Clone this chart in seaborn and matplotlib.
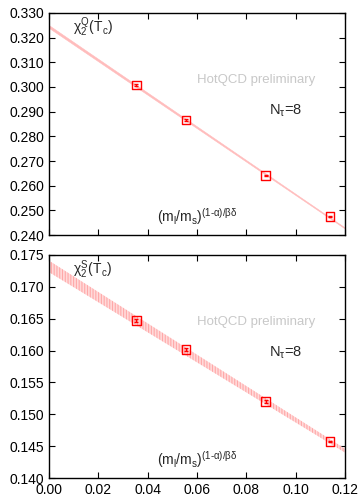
import matplotlib
matplotlib.use("Agg")
import matplotlib.pyplot as plt
import seaborn as sns
import pandas as pd

# Messpunkte (x = (ml/ms)^((1-alpha)/beta delta))
x_pts = [0.0353, 0.0555, 0.0878, 0.1139]
chiQ = [0.3008, 0.2866, 0.2641, 0.2474]
chiQ_err = [0.0004, 0.0003, 0.0003, 0.0002]
chiS = [0.1647, 0.1602, 0.1520, 0.1457]
chiS_err = [0.0002, 0.0002, 0.0002, 0.0001]

# Fit-Band an den Rändern (x = 0 und x = 0.12)
band_x = [0.0, 0.12]
chiQ_band_lo = [0.3239, 0.2426]
chiQ_band_hi = [0.3250, 0.2430]
chiS_band_lo = [0.1723, 0.1440]
chiS_band_hi = [0.1741, 0.1446]

yticksQ = [0.240, 0.250, 0.260, 0.270, 0.280, 0.290, 0.300, 0.310, 0.320, 0.330]
yticksS = [0.140, 0.145, 0.150, 0.155, 0.160, 0.165, 0.170, 0.175]
xticks = [0.00, 0.02, 0.04, 0.06, 0.08, 0.10, 0.12]

sns.set_style("ticks")
plt.rcParams["font.family"] = ["Liberation Sans", "DejaVu Sans"]
plt.rcParams["mathtext.fontset"] = "custom"
plt.rcParams["mathtext.rm"] = "Liberation Sans"
plt.rcParams["mathtext.it"] = "Liberation Sans"
plt.rcParams["mathtext.bf"] = "Liberation Sans:bold"
plt.rcParams["hatch.linewidth"] = 0.8

fig = plt.figure(figsize=(3.58, 4.96), dpi=100)
ax1 = fig.add_axes([0.137, 0.526, 0.827, 0.448])
ax2 = fig.add_axes([0.137, 0.036, 0.827, 0.450])


def panel(ax, y, yerr, lo, hi, yticks, label, hatched):
    df = pd.DataFrame({"x": x_pts, "y": y})
    if hatched:
        ax.fill_between(band_x, lo, hi, facecolor="#ffdada", edgecolor="#ffa8a8",
                        hatch="||||||", linewidth=0, zorder=1)
    else:
        ax.fill_between(band_x, lo, hi, color="#ffbcbc", linewidth=0.4, zorder=1)
    ax.errorbar(x_pts, y, yerr=yerr, fmt="none", ecolor="red", elinewidth=1,
                capsize=1.5, zorder=3)
    sns.scatterplot(data=df, x="x", y="y", ax=ax, marker="s", s=40,
                    facecolor="none", edgecolor="red", linewidth=1.0, zorder=4)
    ax.set_xlim(0, 0.12)
    ax.set_ylim(yticks[0], yticks[-1])
    ax.set_xticks(xticks)
    ax.set_yticks(yticks)
    ax.set_yticklabels([f"{t:.3f}" for t in yticks])
    ax.set_xlabel("")
    ax.set_ylabel("")
    ax.tick_params(direction="in", top=True, right=True, length=4, width=0.8,
                   labelsize=10, colors="black")
    for s in ax.spines.values():
        s.set_linewidth(1.0)
        s.set_color("black")
    ax.text(0.08, 0.935, label, transform=ax.transAxes, fontsize=10, ha="left", va="center")
    ax.text(0.70, 0.70, "HotQCD preliminary", transform=ax.transAxes, fontsize=9.5,
            color="#c8c8c8", ha="center", va="center")
    ax.text(0.80, 0.56, r"N$_\tau$=8", transform=ax.transAxes, fontsize=10.5,
            ha="center", va="center")
    ax.text(0.50, 0.085, r"(m$_l$/m$_s$)$^{(1\text{-}\alpha)/\beta\delta}$",
            transform=ax.transAxes, fontsize=10, ha="center", va="center")


panel(ax1, chiQ, chiQ_err, chiQ_band_lo, chiQ_band_hi, yticksQ,
      r"$\chi_2^{\rm Q}$(T$_{\rm c}$)", False)
panel(ax2, chiS, chiS_err, chiS_band_lo, chiS_band_hi, yticksS,
      r"$\chi_2^{\rm S}$(T$_{\rm c}$)", True)
ax1.set_xticklabels([])
ax2.set_xticklabels([f"{t:.2f}" for t in xticks])

fig.savefig("out.png", dpi=100)
